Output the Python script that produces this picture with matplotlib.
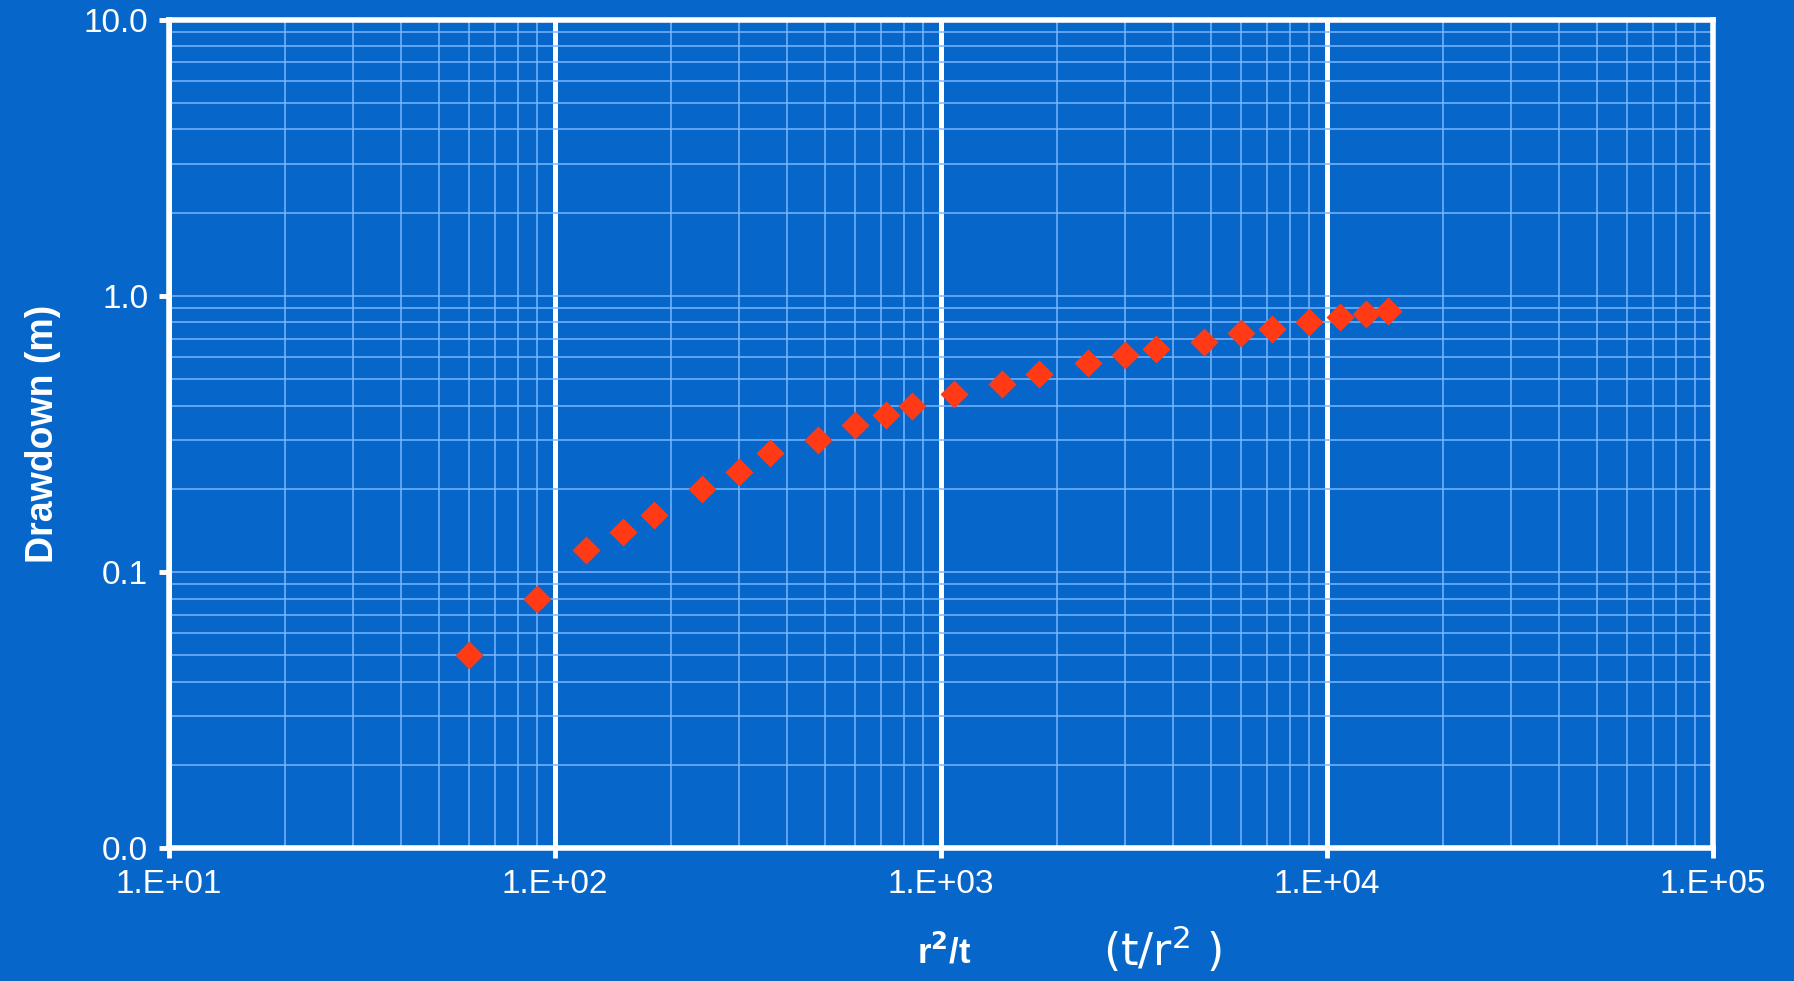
"""Log-log drawdown vs r^2/t plot on a blue slide background."""
import numpy as np, matplotlib
matplotlib.use("Agg")
import matplotlib.pyplot as plt
from matplotlib.ticker import LogLocator, NullFormatter

# data
r2t = [60, 90, 120, 150, 180, 240, 300, 360, 480, 600, 720, 840,
       1080, 1440, 1800, 2400, 3000, 3600, 4800, 6000, 7200, 9000, 10800, 12600, 14400]
drawdown = [0.05, 0.08, 0.12, 0.14, 0.16, 0.20, 0.23, 0.27, 0.30, 0.34, 0.37, 0.40,
            0.44, 0.48, 0.52, 0.57, 0.61, 0.64, 0.68, 0.73, 0.76, 0.80, 0.84, 0.86, 0.88]
xticks = [1e1, 1e2, 1e3, 1e4, 1e5]
xticklabels = ["1.E+01", "1.E+02", "1.E+03", "1.E+04", "1.E+05"]
yticks = [0.01, 0.1, 1, 10]
yticklabels = ["0.0", "0.1", "1.0", "10.0"]

BG = "#0666ca"
plt.rcParams["font.family"] = ["Liberation Sans", "DejaVu Sans"]

fig = plt.figure(figsize=(17.94, 9.81), dpi=100, facecolor=BG)
ax = fig.add_axes([0.0942, 0.1356, 0.8606, 0.8444], facecolor=BG)
ax.set_xscale("log"); ax.set_yscale("log")
ax.set_xlim(10, 1e5); ax.set_ylim(0.01, 10)

ax.xaxis.set_minor_locator(LogLocator(base=10, subs=np.arange(2, 10)))
ax.yaxis.set_minor_locator(LogLocator(base=10, subs=np.arange(2, 10)))
ax.xaxis.set_minor_formatter(NullFormatter()); ax.yaxis.set_minor_formatter(NullFormatter())
ax.grid(which="minor", axis="both", color="#7ab6ff", lw=1.1, zorder=1)
ax.grid(which="major", axis="y", color="#7ab6ff", lw=1.1, zorder=1)
ax.grid(which="major", axis="x", color="white", lw=3.6, zorder=2)

ax.set_xticks(xticks, xticklabels)
ax.set_yticks(yticks, yticklabels)
ax.tick_params(which="minor", length=0)
ax.tick_params(which="major", direction="out", length=7, width=3.5, color="white",
               labelcolor="white", labelsize=24, pad=8)
for s in ax.spines.values():
    s.set_color("white"); s.set_linewidth(4); s.set_zorder(3)

ax.plot(r2t, drawdown, "D", color="#ff3a14", ms=14, mec="none", zorder=4, clip_on=False)

ax.set_ylabel("Drawdown (m)", color="white", fontsize=27, fontweight="bold", labelpad=16)
fig.text(944 / 1794, 1 - 952 / 981, "r$^{\\mathbf{2}}$/t", color="white", fontsize=25,
         fontweight="bold", ha="center", va="center")
fig.text(1163 / 1794, 1 - 950 / 981, "(t/r$^2$ )", color="white", fontsize=32,
         family="DejaVu Sans", ha="center", va="center")

fig.savefig("out.png", dpi=100, facecolor=BG)
